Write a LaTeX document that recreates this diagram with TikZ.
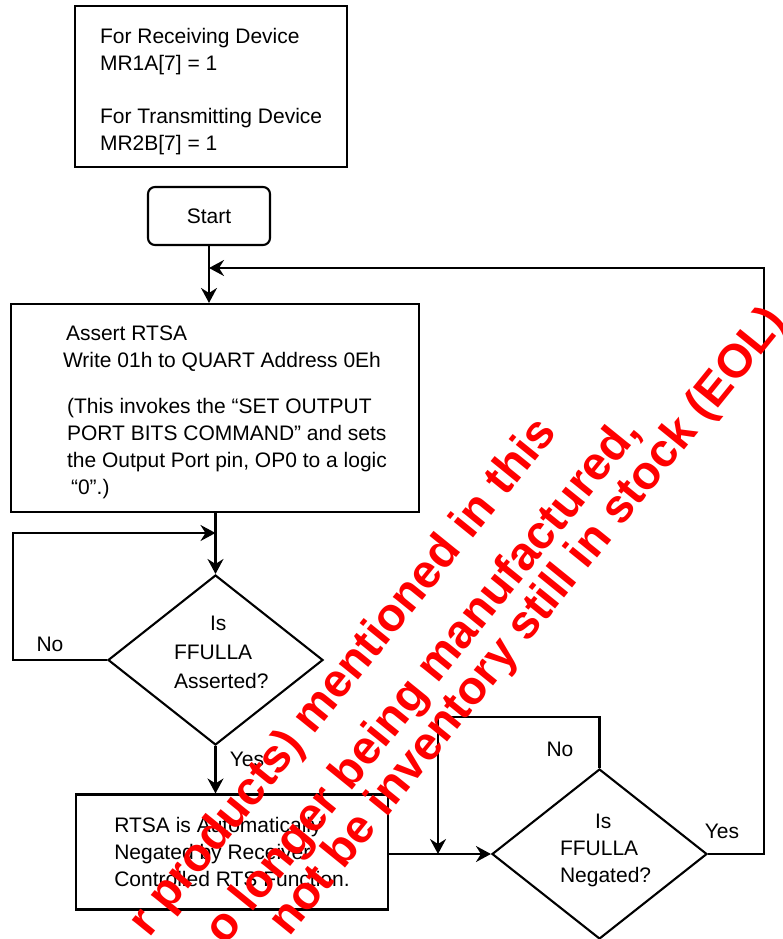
\documentclass[tikz,border=0pt]{standalone}
\usepackage{fontspec}
\setmainfont{Liberation Sans}
\usetikzlibrary{shapes.geometric, arrows.meta}

\tikzset{
  box/.style={draw, line width=2.1pt, inner sep=0pt, font=\fontsize{21}{27}\selectfont},
  decision/.style={draw, diamond, line width=2.1pt, inner sep=0pt, minimum width=215pt, minimum height=170pt},
  txt/.style={inner sep=0pt, font=\fontsize{21}{27}\selectfont, align=left},
  eol/.style={red, inner sep=0pt, rotate=51, anchor=base east, font=\fontsize{47}{50}\selectfont\bfseries},
}

\begin{document}
\begin{tikzpicture}[x=1pt, y=-1pt, line width=2.1pt, >={Stealth[length=15pt, width=16pt, inset=5pt]}]
  \useasboundingbox (0,0) rectangle (783,939);
  % setup note and start
  \node[box, minimum width=272pt, minimum height=161pt] (cfg) at (211,86.5) {};
  \node[txt, anchor=west] (cfgTxt) at (99,92) {For Receiving Device\\MR1A[7] = 1\\[26pt]For Transmitting Device\\MR2B[7] = 1};
  \node[box, rounded corners=7pt, minimum width=122pt, minimum height=58pt] (start) at (209,216) {Start};
  % assert RTSA
  \node[box, minimum width=408pt, minimum height=208pt] (assert) at (215,408) {};
  \node[txt, anchor=west] (assertTxt) at (62,412) {\hspace*{3pt}Assert RTSA\\Write 01h to QUART Address 0Eh\\[19pt]\hspace*{4pt}(This invokes the “SET OUTPUT\\\hspace*{4pt}PORT BITS COMMAND” and sets\\\hspace*{4pt}the Output Port pin, OP0 to a logic\\\hspace*{8pt}“0”.)};
  % first decision
  \node[decision] (q1) at (215.5,660) {};
  \node[txt, anchor=west] (q1Txt) at (173,652) {\hspace*{36pt}Is\\[2pt]FFULLA\\[2pt]Asserted?};
  % negated by receiver
  \node[box, align=left, minimum width=312pt, minimum height=115pt] (rtsa) at (232,852) {RTSA is Automatically\\Negated by Receiver\\Controlled RTS Function.};
  % second decision
  \node[decision] (q2) at (599.5,854) {};
  \node[txt, anchor=west] (q2Txt) at (559,850) {\hspace*{35pt}Is\\FFULLA\\Negated?};
  % labels
  \node[txt] (noA) at (50,644) {No};
  \node[txt] (yesA) at (247,759) {Yes};
  \node[txt] (noB) at (560,749) {No};
  \node[txt] (yesB) at (722,831) {Yes};
  % arrows
  \coordinate (backJoin) at (start.south |- 0,268);
  \coordinate (noJoinA) at (q1.north |- 0,533);
  \coordinate (noJoinB) at (438,854);
  \draw[->] (start) -- (start |- assert.north);
  \draw[->] (q1 |- assert.south) -- (q1.north);
  \draw[->] (q1.west) -- ++(-94,0) |- (noJoinA);
  \draw[->] (q1.south) -- (q1.south |- rtsa.north);
  \draw[->] (rtsa.east |- q2.west) -- (q2.west);
  \draw[->] (q2.north) -- ++(0,-51) -| (noJoinB);
  \draw[->] (q2.east) -- ++(56,0) |- (backJoin);
  % EOL stamp
  \node[eol] (eolA) at (559,432) {r products) mentioned in this};
  \node[eol] (eolB) at (642,432) {o longer being manufactured,};
  \node[eol] (eolC) at (788,322) {not be inventory still in stock (EOL)};
\end{tikzpicture}
\end{document}
